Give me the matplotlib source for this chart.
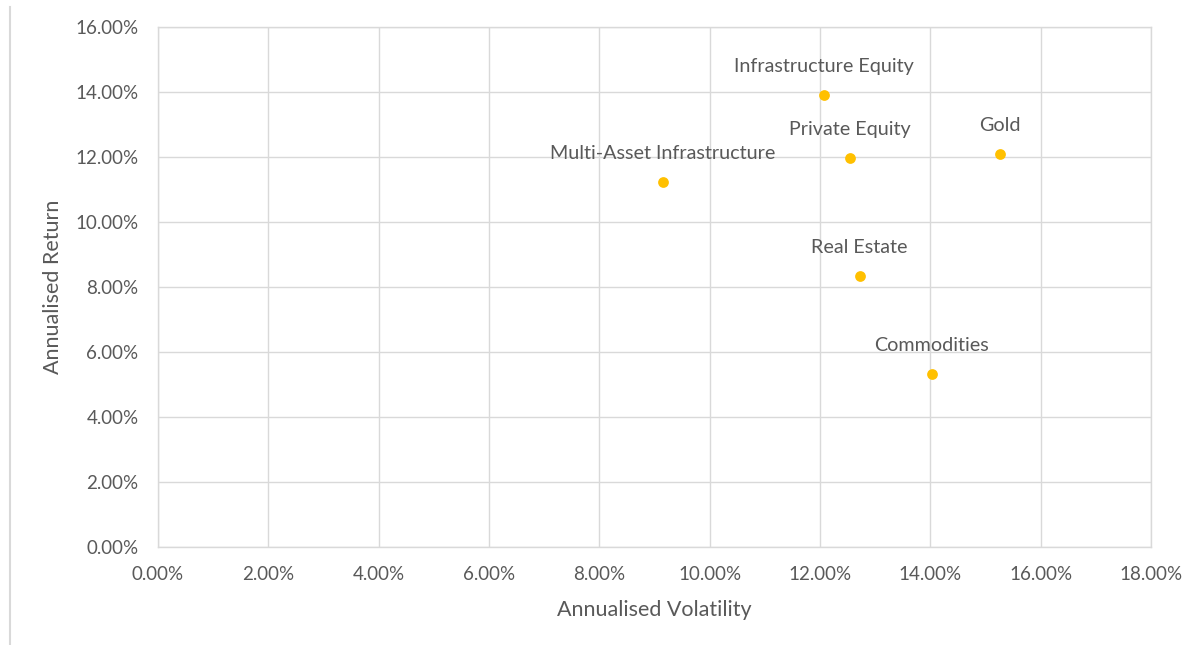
import matplotlib
matplotlib.use("Agg")
import matplotlib.pyplot as plt
from matplotlib.ticker import FuncFormatter, MultipleLocator
from matplotlib.lines import Line2D

assets = ["Infrastructure Equity", "Private Equity", "Gold", "Multi-Asset Infrastructure",
          "Real Estate", "Commodities"]
volatility = [12.07, 12.54, 15.26, 9.15, 12.72, 14.03]
returns = [13.91, 11.97, 12.09, 11.23, 8.34, 5.32]

plt.rcParams['font.family'] = ['Lato', 'DejaVu Sans']
txt = '#595959'
grid = '#D9D9D9'

fig = plt.figure(figsize=(12, 6.45), dpi=100)
ax = fig.add_axes([158/1200, 1-547/645, (1151-158)/1200, (547-27)/645])

ax.scatter(volatility, returns, s=60, color='#FFC000', zorder=3, linewidths=0)
for name, x, y in zip(assets, volatility, returns):
    ax.annotate(name, (x, y), xytext=(0, 20.5), textcoords='offset points',
                ha='center', va='center', fontsize=14.2, color=txt)

ax.set_xlim(0, 18)
ax.set_ylim(0, 16)
ax.xaxis.set_major_locator(MultipleLocator(2))
ax.yaxis.set_major_locator(MultipleLocator(2))
fmt = FuncFormatter(lambda v, p: f"{v:.2f}%")
ax.xaxis.set_major_formatter(fmt)
ax.yaxis.set_major_formatter(fmt)
ax.grid(True, color=grid, linewidth=1)
ax.set_axisbelow(True)
for s in ax.spines.values():
    s.set_color(grid)
    s.set_linewidth(1)
ax.tick_params(length=0, labelsize=13.5, colors=txt)
ax.tick_params(axis='x', pad=14)
ax.tick_params(axis='y', pad=14)
ax.set_xlabel("Annualised Volatility", fontsize=15.5, color=txt, labelpad=12)
ax.set_ylabel("Annualised Return", fontsize=15.5, color=txt, labelpad=9)

fig.add_artist(Line2D([9.5/1200, 9.5/1200], [0, 1-7/645], transform=fig.transFigure,
                      color='#D9D9D9', linewidth=1.5))
fig.text(28/1200, 1+10/645, "g", fontsize=16, color=txt, va='baseline', ha='left')

fig.savefig("out.png", dpi=100)
